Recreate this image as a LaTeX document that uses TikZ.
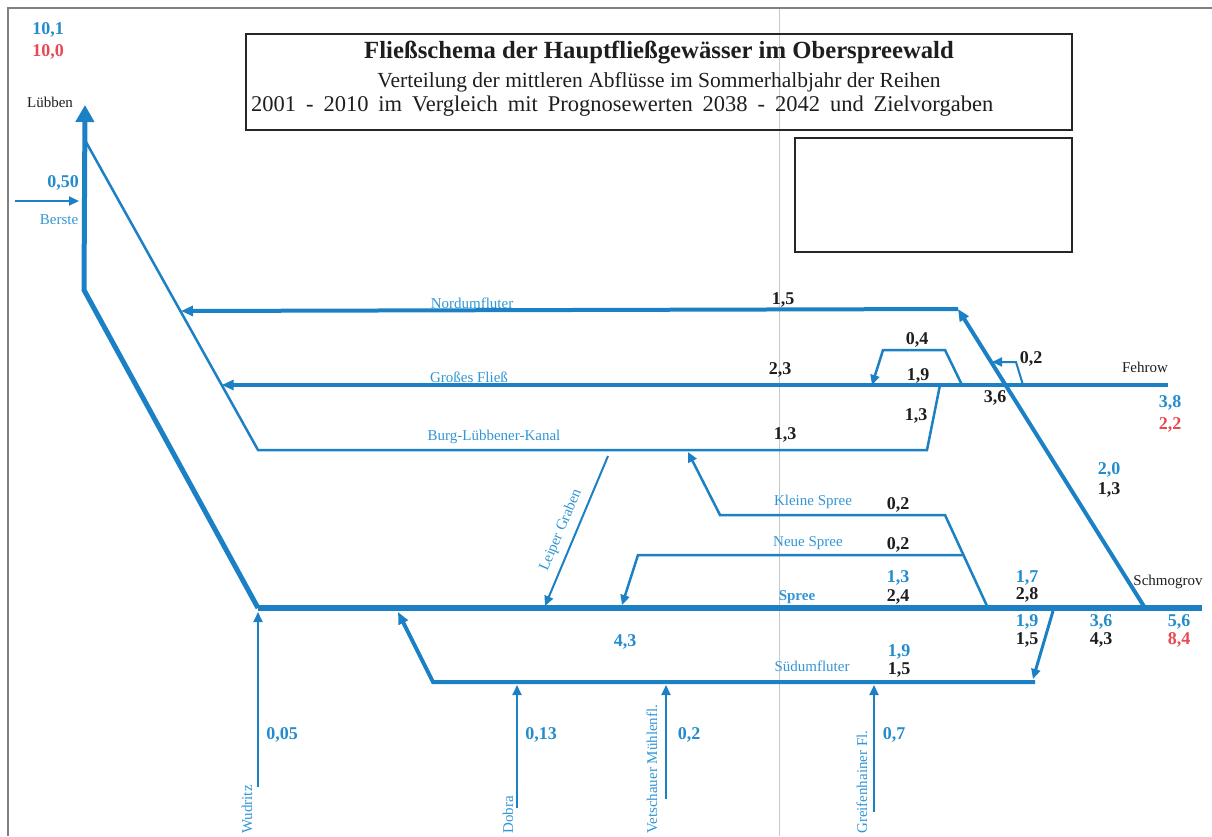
\documentclass[tikz,border=0pt]{standalone}
\usepackage{fontspec}
\setmainfont{Liberation Serif}
\usetikzlibrary{arrows.meta}
\definecolor{lblue}{RGB}{28,128,196}
\definecolor{tblue}{RGB}{50,150,212}
\definecolor{nblue}{RGB}{34,140,204}
\definecolor{nred}{RGB}{232,72,82}
\definecolor{tblack}{RGB}{30,30,30}
\definecolor{framegray}{RGB}{128,128,128}
\definecolor{foldgray}{RGB}{200,200,200}
\tikzset{
  riv/.style={draw=lblue, line cap=butt},
  tipS/.style={-{Triangle[length=10pt,width=9pt]}},
  tipM/.style={-{Triangle[length=12pt,width=10pt]}},
  tipL/.style={-{Triangle[length=17pt,width=18pt]}},
  lbl/.style={text=tblue, font=\fontsize{15}{17}\selectfont, inner sep=0pt},
  lblrot/.style={lbl, rotate=90, anchor=west},
  num/.style={font=\bfseries\fontsize{18}{20}\selectfont, inner sep=0pt},
  nb/.style={num, text=nblue},
  nk/.style={num, text=tblack},
  nr/.style={num, text=nred},
  place/.style={font=\fontsize{15}{17}\selectfont, text=tblack, inner sep=0pt},
  boxframe/.style={draw=black!85, line width=1.5pt}
}
\begin{document}
\begin{tikzpicture}[x=1pt,y=-1pt]
\useasboundingbox (0,0) rectangle (1212,836);
% page frame and fold line
\draw[foldgray, line width=0.7pt] (779,8) -- (779,836);
\draw[framegray, line width=2pt] (8,836) -- (8,8) -- (1212,8);
% title boxes
\draw[boxframe] (246,34) rectangle (1072,130);
\draw[boxframe] (795,138) rectangle (1072,252);
\node[font=\bfseries\fontsize{24.7}{28}\selectfont, text=tblack, inner sep=0pt] (t1) at (659,53) {Fließschema der Hauptfließgewässer im Oberspreewald};
\node[font=\fontsize{21.5}{24}\selectfont, text=tblack, inner sep=0pt] (t2) at (659,82) {Verteilung der mittleren Abflüsse im Sommerhalbjahr der Reihen};
\node[font=\fontsize{22.5}{25}\selectfont, text=tblack, inner sep=0pt, anchor=west] (t3) at (251,106) {\makebox[742pt][s]{2001 - 2010 im Vergleich mit Prognosewerten 2038 - 2042 und Zielvorgaben}};

% coordinates
\coordinate (Lb) at (85,105);
\coordinate (Lk) at (84,290);
\coordinate (Wj) at (258,608);
\coordinate (Se) at (1202,608);
\coordinate (Ls) at (86,142);
\coordinate (Bk) at (258,450);
\coordinate (Br) at (927,450);
\coordinate (Gb) at (940,385);
\coordinate (Fe) at (1168,385);
\coordinate (Ga) at (221.7,385);
\coordinate (Na) at (181,311);
\coordinate (Nc) at (958,309);
\coordinate (Sm) at (1145,608);
\coordinate (Z2a) at (1023,385);
\coordinate (Z2b) at (1016,362);
\coordinate (Z2c) at (992,362);
\coordinate (Z4a) at (962,385);
\coordinate (Z4b) at (945,350);
\coordinate (Z4c) at (883,350);
\coordinate (Z4d) at (872,385);
\coordinate (LGa) at (608,456);
\coordinate (LGb) at (545,606);
\coordinate (KSa) at (987,606);
\coordinate (KSb) at (945,515);
\coordinate (KSc) at (720,515);
\coordinate (KSd) at (688,452);
\coordinate (NSa) at (963.5,555);
\coordinate (NSb) at (638,555);
\coordinate (NSc) at (622,605);
\coordinate (SUa) at (1053,611);
\coordinate (SUb) at (1033,679);
\coordinate (SUc) at (1035,682);
\coordinate (SUd) at (433,682);
\coordinate (SUe) at (398,612);
\coordinate (Wu0) at (258,787); \coordinate (Wu1) at (258,612);
\coordinate (Do0) at (517,808); \coordinate (Do1) at (517,685);
\coordinate (Ve0) at (666,799); \coordinate (Ve1) at (666,685);
\coordinate (Gr0) at (874,812); \coordinate (Gr1) at (874,685);
\coordinate (Be0) at (15,201); \coordinate (Be1) at (79,201);

% rivers
\draw[riv, line width=2.5pt] (Gb) -- (Br) -- (Bk) -- (Ls);
\draw[riv, line width=3.5pt, tipM] (Fe) -- (Ga);
\draw[riv, line width=4pt, tipM] (Sm) -- (Nc);
\draw[riv, line width=4pt, tipM] (Nc) -- (Na);
\draw[riv, line width=2pt, tipS] (Z2a) -- (Z2b) -- (Z2c);
\draw[riv, line width=2.5pt, tipS] (Z4a) -- (Z4b) -- (Z4c) -- (Z4d);
\draw[riv, line width=2pt, tipS] (LGa) -- (LGb);
\draw[riv, line width=2.5pt, tipS] (KSa) -- (KSb) -- (KSc) -- (KSd);
\draw[riv, line width=2.5pt, tipS] (NSa) -- (NSb) -- (NSc);
\draw[riv, line width=3pt, tipS] (SUa) -- (SUb);
\draw[riv, line width=4pt, tipM] (SUc) -- (SUd) -- (SUe);
\draw[riv, line width=2pt, tipS] (Wu0) -- (Wu1);
\draw[riv, line width=2pt, tipS] (Do0) -- (Do1);
\draw[riv, line width=2pt, tipS] (Ve0) -- (Ve1);
\draw[riv, line width=2pt, tipS] (Gr0) -- (Gr1);
\draw[riv, line width=2pt, tipS] (Be0) -- (Be1);
\draw[riv, line width=5.5pt] (Wj) -- (Se);
\draw[riv, line width=5pt, tipL] (Wj) -- (Lk) -- (Lb);

% labels
\node[nb] (v101) at (48,30) {10,1};
\node[nr] (v100) at (48,52) {10,0};
\node[place] (lueb) at (50,102) {Lübben};
\node[nb] (v050) at (63,183) {0,50};
\node[lbl] (berste) at (59,220) {Berste};
\node[lbl] (nord) at (472,303) {Nordumfluter};
\node[nk] (n15) at (783,300) {1,5};
\node[lbl] (gross) at (469,377) {Großes Fließ};
\node[nk] (n23) at (780,370) {2,3};
\node[lbl] (burg) at (494,437) {Burg-Lübbener-Kanal};
\node[nk] (n13a) at (785,435) {1,3};
\node[nk] (n04) at (917,340) {0,4};
\node[nk] (n19a) at (918,376) {1,9};
\node[nk] (n02a) at (1031,359) {0,2};
\node[nk] (n36a) at (995,398) {3,6};
\node[nk] (n13b) at (916,416) {1,3};
\node[place] (fehrow) at (1145,367) {Fehrow};
\node[nb] (n38) at (1170,403) {3,8};
\node[nr] (n22) at (1170,425) {2,2};
\node[nb] (n20) at (1109,470) {2,0};
\node[nk] (n13c) at (1109,490) {1,3};
\node[lbl] (klein) at (813,502) {Kleine Spree};
\node[nk] (n02b) at (898,505) {0,2};
\node[lbl] (neue) at (808,543) {Neue Spree};
\node[nk] (n02c) at (898,545) {0,2};
\node[nb] (n13d) at (898,578) {1,3};
\node[nk] (n24) at (898,597) {2,4};
\node[lbl, font=\bfseries\fontsize{15}{17}\selectfont] (spree) at (797,597) {Spree};
\node[nb] (n17) at (1027,578) {1,7};
\node[nk] (n28) at (1027,595) {2,8};
\node[place] (schm) at (1168,582) {Schmogrov};
\node[nb] (n19b) at (1027,622) {1,9};
\node[nk] (n15b) at (1027,640) {1,5};
\node[nb] (n36b) at (1101,622) {3,6};
\node[nk] (n43a) at (1101,640) {4,3};
\node[nb] (n56) at (1179,622) {5,6};
\node[nr] (n84) at (1179,640) {8,4};
\node[nb] (n43b) at (625,642) {4,3};
\node[nb] (n19c) at (899,652) {1,9};
\node[nk] (n15c) at (899,670) {1,5};
\node[lbl] (sued) at (812,666) {Südumfluter};
\node[nb] (n005) at (282,735) {0,05};
\node[nb] (n013) at (541,735) {0,13};
\node[nb] (n02d) at (689,735) {0,2};
\node[nb] (n07) at (894,735) {0,7};
\node[lblrot] (wud) at (247,834) {Wudritz};
\node[lblrot] (dob) at (508,834) {Dobra};
\node[lblrot] (vet) at (652,834) {Vetschauer Mühlenfl.};
\node[lblrot] (gre) at (862,834) {Greifenhainer Fl.};
\node[lbl, rotate=67] (leip) at (561,530) {Leiper Graben};
\end{tikzpicture}
\end{document}
